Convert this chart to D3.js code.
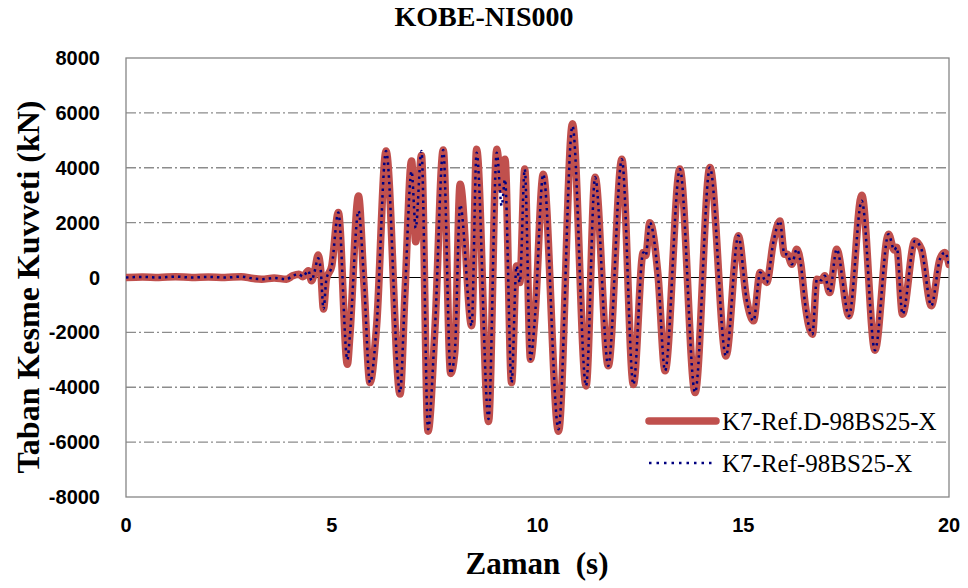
<!DOCTYPE html>
<html>
<head>
<meta charset="utf-8">
<script src="https://cdn.jsdelivr.net/npm/d3@7"></script>
<style>
  body { margin: 0; background: #fff; }
  svg { display: block; }
</style>
</head>
<body>
<svg width="968" height="588"></svg>
<script>
// time (s)
var times = [0, 0.4, 0.8, 1.2, 1.6, 2.0, 2.4, 2.8, 3.1, 3.3, 3.6, 3.9, 4.05, 4.2, 4.3, 4.43, 4.51, 4.58, 4.67, 4.73,
  4.80, 4.87, 5.00, 5.16, 5.38, 5.44, 5.65, 5.78, 5.93, 6.09, 6.32, 6.66, 6.78, 6.94, 7.04, 7.18, 7.34, 7.51, 7.71, 7.89,
  7.99, 8.12, 8.40, 8.52, 8.81, 9.01, 9.13, 9.21, 9.37, 9.49, 9.57, 9.69, 9.83, 9.94, 10.14, 10.51, 10.85, 11.18, 11.40, 11.72,
  12.05, 12.33, 12.57, 12.63, 12.73, 12.93, 13.10, 13.46, 13.83, 14.19, 14.58, 14.88, 15.08, 15.25, 15.41, 15.57, 15.73, 15.89, 16.00, 16.07,
  16.18, 16.30, 16.40, 16.50, 16.68, 16.79, 16.90, 16.98, 17.10, 17.27, 17.57, 17.88, 18.20, 18.53, 18.67, 18.73, 18.87, 19.17, 19.33, 19.57,
  19.78, 19.90, 20.00];

// K7-Ref.D-98BS25-X (kN)
var refD = [0, 20, 0, 30, 0, 20, 0, 30, -40, -60, -20, -60, 60, 120, 30, 250, -120, 200, 820, 300,
  -1150, -60, 420, 2370, -3160, -2130, 2970, -170, -3830, -1760, 4610, -4250, -550, 4250, 1300, 4450, -5600, -1800, 4650, -3500,
  -2730, 3400, -1760, 4670, -5250, 4670, 3220, 4310, -3830, 420, -180, 3950, -2980, -1400, 3760, -5600, 5600, -3950, 3650, -3220,
  4310, -3900, 910, 800, 2000, 60, -3400, 3950, -4190, 4010, -2860, 1520, -790, -1580, 180, -180, 1270, 2060, 850, 850,
  480, 1030, 480, -910, -2070, -60, -100, 60, -550, 1030, -1400, 3000, -2650, 1580, 1000, 1100, -1340, 1330, 1030, -1030,
  670, 910, 480];

// K7-Ref-98BS25-X (kN)
var ref = [0, 20, 0, 30, 0, 20, 0, 30, -40, -60, -20, -60, 60, 120, 30, 250, -120, 200, 700, 300,
  -1150, -60, 420, 2370, -3000, -2130, 2430, 0, -3830, -1760, 4610, -4190, -550, 3880, 1800, 4610, -5530, -1800, 4650, -3500,
  -2730, 2650, -1760, 4550, -5160, 4550, 2610, 3580, -3830, 420, -180, 3950, -2980, -1400, 3760, -5530, 5520, -3950, 3650, -3220,
  4310, -3900, 910, 800, 2000, 60, -3400, 3950, -4190, 4010, -2860, 1520, -790, -1580, 180, -180, 1270, 2060, 850, 850,
  480, 1030, 480, -910, -2070, -60, -100, 60, -550, 1030, -1400, 2800, -2650, 1580, 1000, 1100, -1340, 1330, 1030, -1030,
  670, 910, 480];

var xTicks = [0, 5, 10, 15, 20];
var yTicks = [-8000, -6000, -4000, -2000, 0, 2000, 4000, 6000, 8000];
var seriesNames = ["K7-Ref.D-98BS25-X", "K7-Ref-98BS25-X"];

var svg = d3.select("svg");
var plotLeft = 126, plotRight = 949, plotTop = 58, plotBottom = 497;

var x = d3.scaleLinear().domain([0, 20]).range([plotLeft, plotRight]);
var y = d3.scaleLinear().domain([-8000, 8000]).range([plotBottom, plotTop]);

// gridlines (dash-dot)
svg.append("g").selectAll("line")
  .data(yTicks.filter(function(d){ return d !== 0 && d !== 8000 && d !== -8000; }))
  .enter().append("line")
    .attr("x1", plotLeft).attr("x2", plotRight)
    .attr("y1", function(d){ return y(d); })
    .attr("y2", function(d){ return y(d); })
    .attr("stroke", "#8c8c8c")
    .attr("stroke-width", 1.3)
    .attr("stroke-dasharray", "10,3,2,3");

// zero line
svg.append("line")
  .attr("x1", plotLeft).attr("x2", plotRight)
  .attr("y1", y(0)).attr("y2", y(0))
  .attr("stroke", "#000").attr("stroke-width", 1.2);

// plot border
svg.append("rect")
  .attr("x", plotLeft).attr("y", plotTop)
  .attr("width", plotRight - plotLeft).attr("height", plotBottom - plotTop)
  .attr("fill", "none").attr("stroke", "#868686").attr("stroke-width", 1.3);

svg.append("defs").append("clipPath").attr("id", "clip")
  .append("rect").attr("x", plotLeft).attr("y", plotTop)
  .attr("width", plotRight - plotLeft).attr("height", plotBottom - plotTop);

var line = d3.line()
  .x(function(d){ return x(d[0]); })
  .y(function(d){ return y(d[1]); })
  .curve(d3.curveMonotoneX);

var redData = times.map(function(t, i){ return [t, refD[i]]; });
var blueData = times.map(function(t, i){ return [t, ref[i]]; });

var plot = svg.append("g").attr("clip-path", "url(#clip)");
plot.append("path").datum(redData)
  .attr("d", line)
  .attr("fill", "none")
  .attr("stroke", "#C0504D")
  .attr("stroke-width", 7.5)
  .attr("stroke-linejoin", "round")
  .attr("stroke-linecap", "round");
plot.append("path").datum(blueData)
  .attr("d", line)
  .attr("fill", "none")
  .attr("stroke", "#000080")
  .attr("stroke-width", 2.5)
  .attr("stroke-dasharray", "2.5,4");

// tick labels
svg.append("g").selectAll("text")
  .data(yTicks).enter().append("text")
    .attr("x", 100)
    .attr("y", function(d){ return y(d) + 7; })
    .attr("text-anchor", "end")
    .attr("font-family", "Liberation Sans, Arial, sans-serif")
    .attr("font-weight", "bold")
    .attr("font-size", 20)
    .text(function(d){ return d; });

svg.append("g").selectAll("text")
  .data(xTicks).enter().append("text")
    .attr("x", function(d){ return x(d); })
    .attr("y", 532)
    .attr("text-anchor", "middle")
    .attr("font-family", "Liberation Sans, Arial, sans-serif")
    .attr("font-weight", "bold")
    .attr("font-size", 20)
    .text(function(d){ return d; });

svg.append("text")
  .attr("x", 484).attr("y", 26)
  .attr("text-anchor", "middle")
  .attr("font-family", "Liberation Serif, Times New Roman, serif")
  .attr("font-weight", "bold")
  .attr("font-size", 28)
  .text("KOBE-NIS000");

svg.append("text")
  .attr("x", 537).attr("y", 574)
  .attr("text-anchor", "middle")
  .attr("font-family", "Liberation Serif, Times New Roman, serif")
  .attr("font-weight", "bold")
  .attr("font-size", 31)
  .attr("xml:space", "preserve")
  .text("Zaman  (s)");

svg.append("text")
  .attr("transform", "translate(39,287) rotate(-90)")
  .attr("text-anchor", "middle")
  .attr("font-family", "Liberation Serif, Times New Roman, serif")
  .attr("font-weight", "bold")
  .attr("font-size", 32)
  .text("Taban Kesme Kuvveti (kN)");

// legend
var legend = svg.append("g");
legend.append("line")
  .attr("x1", 649).attr("x2", 716).attr("y1", 421).attr("y2", 421)
  .attr("stroke", "#C0504D").attr("stroke-width", 7.5).attr("stroke-linecap", "round");
legend.append("line")
  .attr("x1", 649).attr("x2", 712).attr("y1", 463).attr("y2", 463)
  .attr("stroke", "#000080").attr("stroke-width", 2.5).attr("stroke-dasharray", "2.5,5");
legend.selectAll("text").data(seriesNames).enter().append("text")
  .attr("x", 722)
  .attr("y", function(d, i){ return 430 + i * 42; })
  .attr("font-family", "Liberation Serif, Times New Roman, serif")
  .attr("font-size", 25)
  .text(function(d){ return d; });
</script>
</body>
</html>
